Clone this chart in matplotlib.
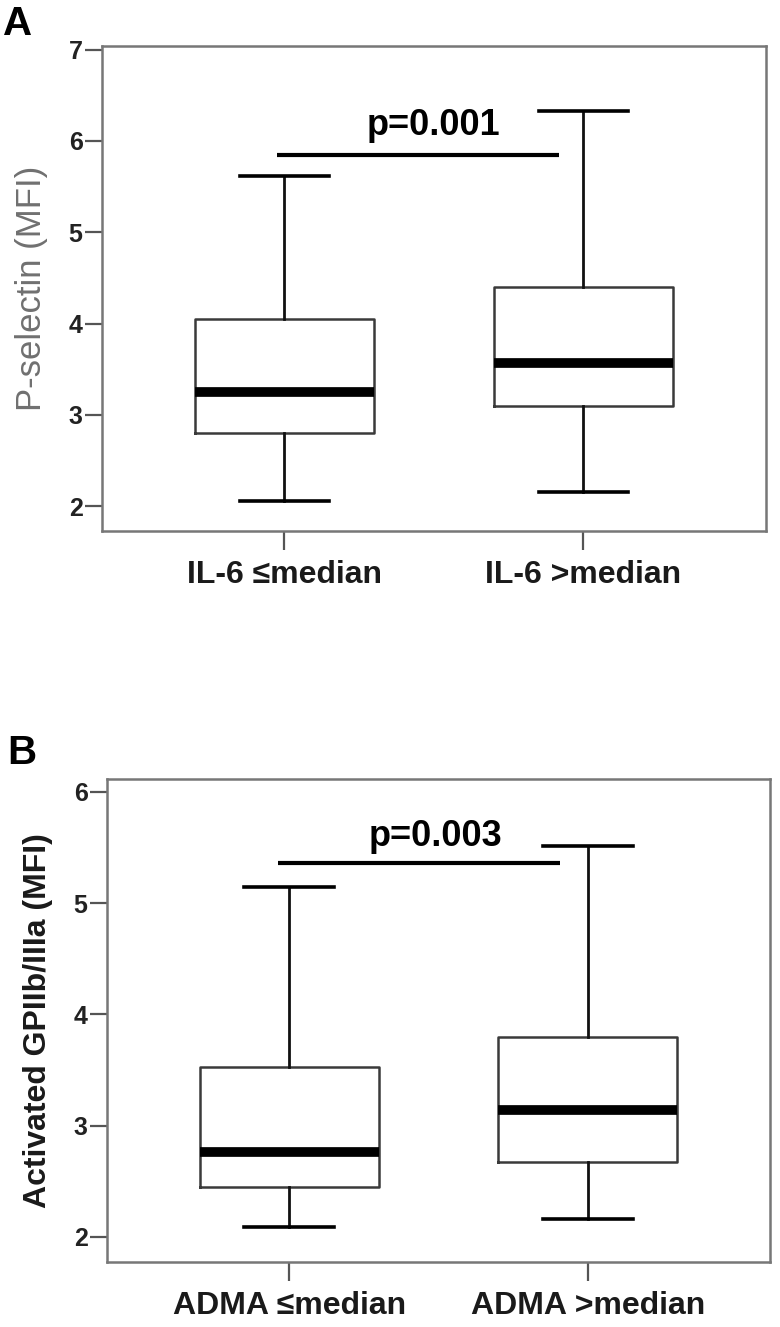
import matplotlib
matplotlib.use("Agg")
import matplotlib.pyplot as plt

plt.rcParams['font.family'] = ['Liberation Sans', 'DejaVu Sans']

# Panel A: P-selectin by IL-6 group
labels_a = ["IL-6 \u2264median", "IL-6 >median"]
whislo_a = [2.06, 2.15]
q1_a = [2.80, 3.10]
med_a = [3.25, 3.57]
q3_a = [4.05, 4.40]
whishi_a = [5.62, 6.33]

# Panel B: activated GPIIb/IIIa by ADMA group
labels_b = ["ADMA \u2264median", "ADMA >median"]
whislo_b = [2.09, 2.16]
q1_b = [2.45, 2.67]
med_b = [2.76, 3.14]
q3_b = [3.53, 3.80]
whishi_b = [5.15, 5.51]

p_a = "p=0.001"
p_b = "p=0.003"
sig_a = 5.85
sig_b = 5.36

fig = plt.figure(figsize=(7.8, 13.27), dpi=100)
ax_a = fig.add_axes([0.1308, 0.5998, 0.851, 0.3655])
ax_b = fig.add_axes([0.1372, 0.0490, 0.850, 0.3640])


def draw_panel(ax, labels, lo, q1, med, q3, hi, ylim, yticks, ylabel, ylab_color, ylab_weight,
               ptext, sig_y, p_x, p_y, sig_x0, sig_x1):
    stats = []
    for i in range(len(labels)):
        stats.append(dict(whislo=lo[i], q1=q1[i], med=med[i], q3=q3[i], whishi=hi[i], fliers=[]))
    ax.bxp(stats, positions=[1, 2], widths=0.6, showfliers=False,
           boxprops=dict(color='#3a3a3a', linewidth=1.8),
           medianprops=dict(color='black', linewidth=7, solid_capstyle='butt'),
           whiskerprops=dict(color='#111111', linewidth=2.0),
           capprops=dict(color='black', linewidth=2.6),
           capwidths=0.3)
    ax.set_xlim(0.39, 2.61)
    ax.set_ylim(*ylim)
    ax.set_yticks(yticks)
    ax.set_yticklabels([str(t) for t in yticks], fontsize=18, fontweight='bold', color='#222222')
    ax.set_xticks([1, 2])
    ax.set_xticklabels(labels, fontsize=23, fontweight='bold', color='#1a1a1a')
    ax.tick_params(axis='y', length=12, width=1.6, color='#555555', pad=2)
    ax.tick_params(axis='x', length=14, width=1.6, color='#555555', pad=7)
    for s in ax.spines.values():
        s.set_color('#777777')
        s.set_linewidth(1.8)
    ax.set_ylabel(ylabel, fontsize=23 if ylab_weight == 'bold' else 25,
                  fontweight=ylab_weight, color=ylab_color)
    ax.yaxis.set_label_coords(-0.082, 0.5)
    ax.plot([sig_x0, sig_x1], [sig_y, sig_y], color='black', linewidth=3, solid_capstyle='butt')
    ax.text(p_x, p_y, ptext, ha='center', va='baseline', fontsize=26, fontweight='bold')


draw_panel(ax_a, labels_a, whislo_a, q1_a, med_a, q3_a, whishi_a,
           (1.726, 7.04), [2, 3, 4, 5, 6, 7], "P-selectin (MFI)", '#707070', 'normal',
           p_a, sig_a, 1.5, 6.07, 0.975, 1.918)
draw_panel(ax_b, labels_b, whislo_b, q1_b, med_b, q3_b, whishi_b,
           (1.775, 6.117), [2, 3, 4, 5, 6], "Activated GPIIb/IIIa (MFI)", '#1a1a1a', 'bold',
           p_b, sig_b, 1.49, 5.51, 0.963, 1.906)

fig.text(3 / 780, 1 - 35 / 1327, "A", fontsize=29, fontweight='bold')
fig.text(7 / 780, 1 - 764 / 1327, "B", fontsize=29, fontweight='bold')

fig.savefig("out.png", dpi=100, facecolor='white')
